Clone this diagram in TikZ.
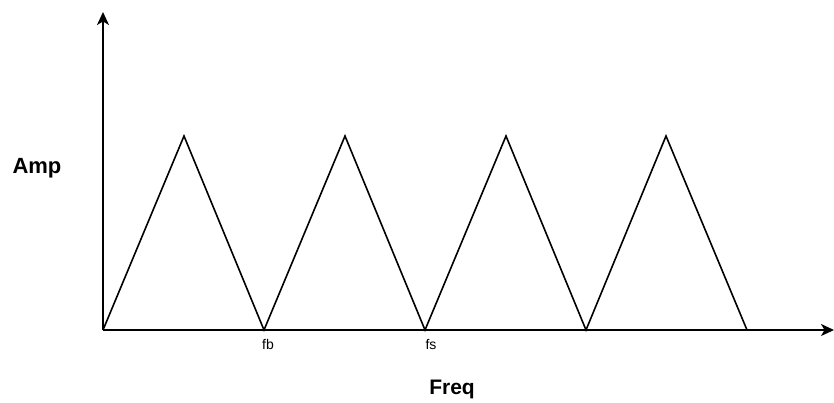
\documentclass[tikz,border=0pt]{standalone}
\usepackage{fontspec}
\setmainfont{Liberation Sans}
\usetikzlibrary{arrows.meta}
\begin{document}
\begin{tikzpicture}[x=1pt,y=-1pt,
  axis/.style={line width=1.6pt,-{Stealth[length=13pt,width=12pt,inset=3.5pt]}},
  tri/.style={line width=1.6pt,line join=miter},
  small/.style={font=\fontsize{14}{16}\selectfont,anchor=base,inner sep=0pt},
  big/.style={font=\bfseries\fontsize{22}{26}\selectfont,anchor=base,inner sep=0pt}]
\useasboundingbox (0,0) rectangle (834,402);
\coordinate (o) at (103,330);
\coordinate (ytip) at (103,12);
\coordinate (xtip) at (834,330);
\draw[tri] (103,330) -- (184,136) -- (264,330) -- (345,136) -- (425,330) -- (506,136) -- (586,330) -- (666,136) -- (747,330);
\draw[axis] (o) -- (ytip);
\draw[axis] (o) -- (xtip);
\node[big] (amp) at (37,173) {Amp};
\node[big,font=\bfseries\fontsize{21}{25}\selectfont] (freq) at (452,394) {Freq};
\node[small] (fb) at (268,349) {fb};
\node[small] (fs) at (431,349) {fs};
\end{tikzpicture}
\end{document}
